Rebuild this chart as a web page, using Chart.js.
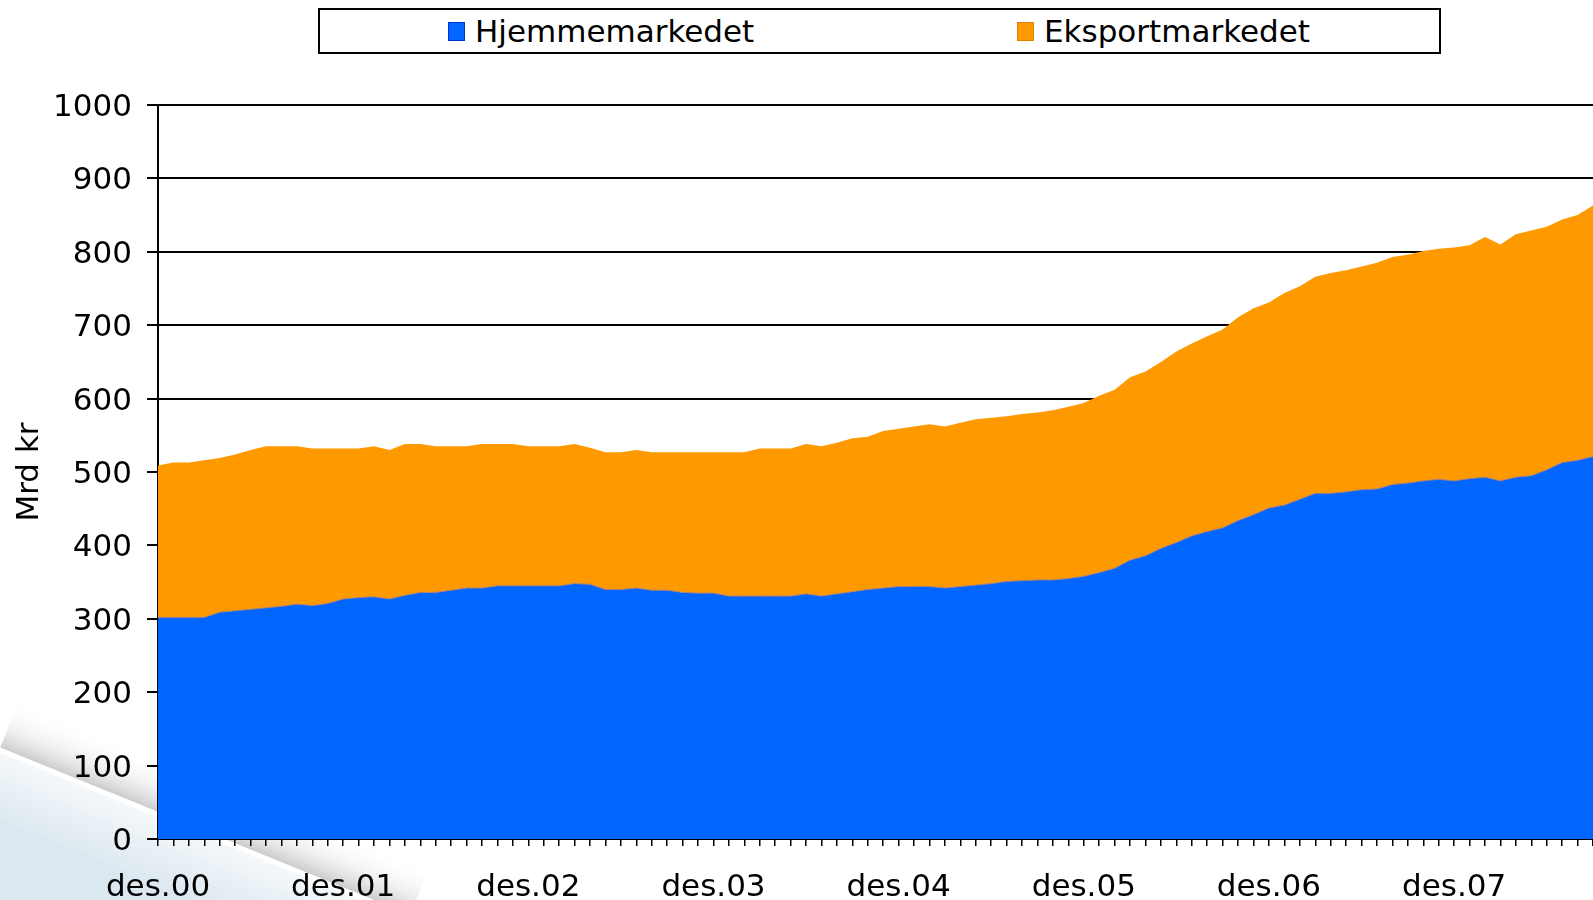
<!DOCTYPE html>
<html>
<head>
<meta charset="utf-8">
<script src="https://cdn.jsdelivr.net/npm/chart.js@4/dist/chart.umd.min.js"></script>
<style>
  html, body { margin: 0; padding: 0; background: #ffffff; }
  body { width: 1593px; height: 900px; position: relative; overflow: hidden; font-family: "DejaVu Sans", Verdana, sans-serif; }
  #c { position: absolute; left: 0; top: 0; }
  #legend { position: absolute; left: 318px; top: 8px; width: 1119px; height: 42px; border: 2px solid #000; background: #fff; }
  .item { position: absolute; top: 0; height: 42px; display: flex; align-items: center; font-size: 31px; color: #000; white-space: nowrap; }
  .sw { display: inline-block; width: 15px; height: 17px; margin-right: 10px; }
</style>
</head>
<body>
<canvas id="c" width="1593" height="900"></canvas>
<div id="legend">
  <div class="item" style="left:128px"><span class="sw" style="background:#0066FF;border:1px solid #0033cc"></span><span id="l0"></span></div>
  <div class="item" style="left:697px"><span class="sw" style="background:#FF9900;border:1px solid #e08000"></span><span id="l1"></span></div>
</div>
<script>
// ---- data ----
const seriesNames = ['Hjemmemarkedet', 'Eksportmarkedet'];
const monthNames = ['jan','feb','mar','apr','mai','jun','jul','aug','sep','okt','nov','des'];
const startLabel = 'des.00';
const yTicks = [0,100,200,300,400,500,600,700,800,900,1000];
const yTitle = 'Mrd kr';

const hjemmemarkedet = [
  302,302,302,302,309,311,313,315,317,320,318,321,
  327,329,330,327,332,336,336,339,342,342,345,345,
  345,345,345,348,347,340,340,342,339,339,336,335,
  335,331,331,331,331,331,334,331,334,337,340,342,
  344,344,344,342,344,346,348,351,352,353,353,355,
  358,363,369,380,386,396,404,413,419,424,434,442,
  451,455,463,471,471,473,476,477,483,485,488,490,
  488,491,493,488,493,495,503,513,516,521
];
const eksportmarkedet = [
  207,211,211,214,210,213,217,220,218,215,214,211,
  205,203,205,203,206,202,199,196,193,196,193,193,
  190,190,190,190,186,187,187,188,188,188,191,192,
  192,196,196,201,201,201,204,204,206,209,208,214,
  215,218,221,220,223,226,226,225,227,228,231,234,
  236,241,243,249,251,254,260,262,266,270,277,281,
  280,289,290,295,300,302,304,308,310,311,313,314,
  318,318,327,322,331,334,331,331,334,342
];

// category labels: monthly, starting des.00
const labels = [];
for (let i = 0; i < hjemmemarkedet.length; i++) {
  const m = (11 + i) % 12;
  const y = Math.floor((11 + i) / 12);
  labels.push(monthNames[m] + '.' + String(y).padStart(2, '0'));
}

document.getElementById('l0').textContent = seriesNames[0];
document.getElementById('l1').textContent = seriesNames[1];

const FONT = '"DejaVu Sans", Verdana, sans-serif';

const swoosh = {
  id: 'swoosh',
  beforeDraw(chart) {
    const ctx = chart.ctx;
    ctx.save();
    const x0 = 0, y0 = 748, x1 = 410, y1 = 915;
    const dx = x1 - x0, dy = y1 - y0, L = Math.hypot(dx, dy);
    const nx = dy / L, ny = -dx / L; // normal pointing up-right
    // light blue region below line
    ctx.beginPath();
    ctx.moveTo(x0, y0); ctx.lineTo(x1, y1); ctx.lineTo(0, 915); ctx.closePath();
    let g = ctx.createLinearGradient(x0, y0, x0 - nx * 70, y0 - ny * 70);
    g.addColorStop(0, '#f6f9fb');
    g.addColorStop(1, '#dce8f0');
    ctx.fillStyle = g; ctx.fill();
    // shadow band above line
    ctx.beginPath();
    ctx.moveTo(x0, y0); ctx.lineTo(x1, y1);
    ctx.lineTo(x1 + nx * 50, y1 + ny * 50); ctx.lineTo(x0 + nx * 50, y0 + ny * 50); ctx.closePath();
    g = ctx.createLinearGradient(x0, y0, x0 + nx * 50, y0 + ny * 50);
    g.addColorStop(0, 'rgba(180,180,185,0.7)');
    g.addColorStop(0.4, 'rgba(215,215,220,0.4)');
    g.addColorStop(1, 'rgba(255,255,255,0)');
    ctx.fillStyle = g; ctx.fill();
    // white highlight
    ctx.beginPath();
    ctx.moveTo(x0 - nx * 2, y0 - ny * 2); ctx.lineTo(x1 - nx * 2, y1 - ny * 2);
    ctx.strokeStyle = '#ffffff'; ctx.lineWidth = 5; ctx.stroke();
    ctx.restore();
  }
};

new Chart(document.getElementById('c'), {
  type: 'line',
  data: {
    labels: labels,
    datasets: [
      {
        label: seriesNames[0],
        data: hjemmemarkedet,
        backgroundColor: '#0066FF',
        borderColor: '#b08070',
        borderWidth: 1,
        fill: 'origin',
        pointRadius: 0,
        tension: 0
      },
      {
        label: seriesNames[1],
        data: eksportmarkedet,
        backgroundColor: '#FF9900',
        borderColor: '#FF9900',
        borderWidth: 0,
        fill: '-1',
        pointRadius: 0,
        tension: 0
      }
    ]
  },
  options: {
    responsive: false,
    animation: false,
    devicePixelRatio: 1,
    layout: { padding: { top: 105, right: 0, bottom: 0, left: 0 } },
    plugins: { legend: { display: false }, tooltip: { enabled: false } },
    elements: { line: { borderJoinStyle: 'round' } },
    scales: {
      x: {
        stacked: true,
        offset: false,
        afterFit(scale) { scale.height = 61; scale.paddingRight = 0; scale.paddingLeft = 0; },
        border: { display: true, color: '#000', width: 2 },
        grid: { drawOnChartArea: false, drawTicks: true, tickLength: 7, color: '#000', lineWidth: 1.5 },
        ticks: {
          autoSkip: false, maxRotation: 0, minRotation: 0, padding: 23,
          color: '#000', font: { family: FONT, size: 31 },
          callback(v, i) { const l = labels[i]; return l.startsWith(startLabel.slice(0, 3)) ? l : ''; }
        }
      },
      y: {
        stacked: true,
        min: yTicks[0], max: yTicks[yTicks.length - 1],
        afterFit(scale) { scale.width = 158; scale.paddingTop = 0; scale.paddingBottom = 0; },
        afterBuildTicks(scale) { scale.ticks = yTicks.map(v => ({ value: v })); },
        border: { display: true, color: '#000', width: 2 },
        grid: { color: '#000', lineWidth: 2, tickLength: 11, drawTicks: true },
        ticks: { padding: 15, labelOffset: 3, color: '#000', font: { family: FONT, size: 31 }, callback(v) { return String(v); } },
        title: { display: true, text: yTitle, color: '#000', font: { family: FONT, size: 31 }, padding: { top: 11, bottom: 0 } }
      }
    }
  },
  plugins: [swoosh]
});
</script>
</body>
</html>
